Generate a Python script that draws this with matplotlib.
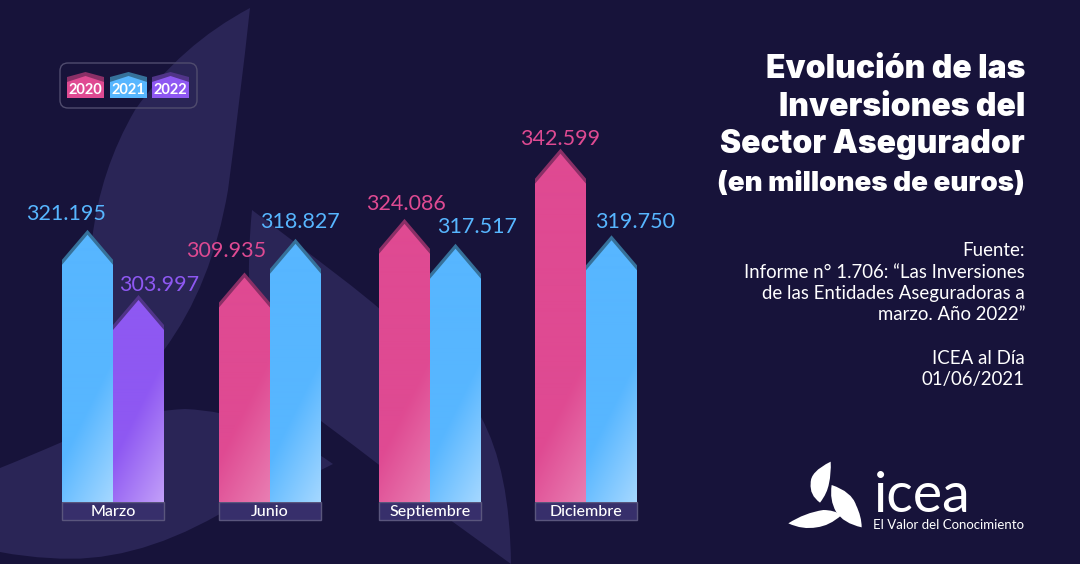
import numpy as np
import matplotlib
matplotlib.use("Agg")
import matplotlib.pyplot as plt
from matplotlib.path import Path
from matplotlib.patches import PathPatch, Polygon, Rectangle, FancyBboxPatch
from matplotlib.colors import to_rgb

plt.rcParams['font.family'] = ['Lato', 'DejaVu Sans']

months = ["Marzo", "Junio", "Septiembre", "Diciembre"]
values_2020 = [None, 309935, 324086, 342599]
values_2021 = [321195, 318827, 317517, 319750]
values_2022 = [303997, None, None, None]
years = ["2020", "2021", "2022"]

title_lines = ["Evolución de las", "Inversiones del", "Sector Asegurador", "(en millones de euros)"]
source_lines = ["Fuente:", "Informe n° 1.706: “Las Inversiones", "de las Entidades Aseguradoras a",
                "marzo. Año 2022”", "", "ICEA al Día", "01/06/2021"]

BG = "#17133a"
LEAF = "#2a2556"
colors = {"2020": ("#df4a92", "#e97fb3", "#8a2f66"),
          "2021": ("#57b6ff", "#a6d8ff", "#36719a"),
          "2022": ("#8e58f2", "#c3a0f9", "#503488")}

group_left = [62, 219, 379, 535]
bar_w = 51
px_per_k = 3.79
drop_px = 30
label_dx = [-21, 21, -18, 4, 1, 22, 0, 24]
label_dy = [21, 15, 26, 22, 20, 22, 15, 18]
VMIN, VMAX = 250699, 356768


def curve(points, color, ax, **kw):
    # closed shape from on-curve / control point pairs
    verts = [points[0]]
    codes = [Path.MOVETO]
    for p in points[1:]:
        verts.append(p)
        codes.append(Path.CURVE3)
    verts.append(points[0])
    codes.append(Path.CLOSEPOLY)
    ax.add_patch(PathPatch(Path(verts, codes), fc=color, ec="none", **kw))


def zl(pts):
    return [(770 + x / 3, 450 + y / 3) for x, y in pts]


fig = plt.figure(figsize=(10.8, 5.64), dpi=100, facecolor=BG)
bg = fig.add_axes([0, 0, 1, 1])
bg.set_xlim(0, 1080)
bg.set_ylim(564, 0)
bg.axis("off")

# background leaves
curve([(250, 8), (180, 45), (135, 110), (100, 170), (92, 240), (82, 320), (92, 405),
      (140, 380), (164, 350), (212, 285), (228, 190), (240, 100), (250, 8), (250, 8), (250, 8)], LEAF, bg)
curve([(252, 210), (296, 243), (340, 277), (430, 345), (481, 417), (510, 470), (511, 564),
      (482, 543), (453, 522), (387, 470), (321, 421), (265, 375), (250, 300), (247, 260), (252, 210)], LEAF, bg)
curve([(0, 468), (30, 456), (62, 442), (120, 412), (185, 409), (260, 412), (333, 464),
      (327, 467), (321, 470), (270, 492), (218, 515), (130, 565), (50, 558), (25, 557), (0, 552)], LEAF, bg)

ax = fig.add_axes([0, 62 / 564, 1, 402 / 564], facecolor="none")
ax.axis("off")

k = 1000 / px_per_k  # value units per pixel
i = 0
for g, month in enumerate(months):
    series = [(y, v[g]) for y, v in zip(years, [values_2020, values_2021, values_2022]) if v[g] is not None]
    for s, (year, val) in enumerate(series):
        main, light, dark = colors[year]
        x0 = group_left[g] + s * bar_w
        x1 = x0 + bar_w
        xc = (x0 + x1) / 2

        cap = Polygon([(x0, VMIN), (x0, val - (drop_px - 5) * k), (xc, val + 5 * k),
                       (x1, val - (drop_px - 5) * k), (x1, VMIN)], fc=dark, ec="none", zorder=2 + s)
        ax.add_patch(cap)

        shape = Polygon([(x0, VMIN), (x0, val - drop_px * k), (xc, val),
                         (x1, val - drop_px * k), (x1, VMIN)], fc="none", ec="none", zorder=2 + s)
        ax.add_patch(shape)

        h = int((val - VMIN) / k)
        xx, dd = np.meshgrid(np.arange(bar_w), np.arange(h))
        t = np.clip((42 - (dd - 2 * xx)) / 144, 0, 1)[..., None]
        img = np.array(to_rgb(main)) * (1 - t) + np.array(to_rgb(light)) * t
        im = ax.imshow(img, extent=[x0, x1, VMIN, val], origin="lower", aspect="auto",
                       interpolation="bilinear", zorder=2.5 + s)
        im.set_clip_path(shape)

        ax.annotate(f"{val:,}".replace(",", "."), (xc, val), xytext=(label_dx[i], label_dy[i]),
                    textcoords="offset pixels", ha="center", va="center", fontsize=15.5,
                    color=main, zorder=6)
        i += 1

ax.set_xlim(0, 1080)
ax.set_ylim(VMIN, VMAX)

# month boxes under each group
for g, month in enumerate(months):
    bg.add_patch(Rectangle((group_left[g], 502), 2 * bar_w, 17.5, fc="#372f6b", ec="#5a567d", lw=1, zorder=3))
    bg.text(group_left[g] + bar_w, 512, month, ha="center", va="center", color="white",
            fontsize=11.5, fontweight="medium", zorder=4)

# legend
bg.add_patch(FancyBboxPatch((60, 63), 137, 45, boxstyle="round,pad=0,rounding_size=8",
                            fc="none", ec="#504c6e", lw=1))
for x, year in zip([67, 110, 152], years):
    main, light, dark = colors[year]
    bg.add_patch(Polygon([(x, 98), (x, 77), (x + 18.5, 72), (x + 37, 77), (x + 37, 98)], fc=dark, ec="none"))
    bg.add_patch(Polygon([(x, 98), (x, 82), (x + 18.5, 76), (x + 37, 82), (x + 37, 98)], fc=main, ec="none"))
    bg.text(x + 18.5, 90, year, ha="center", va="center", color="white", fontsize=10.5, fontweight="bold")

# title and source on the right
for line, y, size in zip(title_lines, [70, 108, 144, 184], [22.9, 22.9, 22.9, 20]):
    bg.text(1025, y, line, ha="right", va="center", color="white", fontsize=size,
            family=["Inter", "DejaVu Sans"], fontweight="black")
for line, y in zip(source_lines, [251, 273, 294, 315, 336, 358, 380]):
    bg.text(1025, y, line, ha="right", va="center", color="white", fontsize=13.4)

# logo
curve(zl([(182, 35), (120, 65), (122, 100), (118, 135), (150, 158), (172, 130), (177, 100), (184, 70), (182, 35)]), "white", bg)
curve(zl([(185, 105), (245, 125), (258, 165), (275, 200), (275, 232), (220, 220), (198, 185), (178, 150), (185, 105)]), "white", bg)
curve(zl([(55, 220), (105, 188), (160, 180), (192, 180), (215, 195), (178, 228), (140, 232), (98, 240), (55, 220)]), "white", bg)
bg.text(874, 497, "icea", ha="left", va="center", color="white", fontsize=40)
bg.text(1024, 525, "El Valor del Conocimiento", ha="right", va="center", color="white", fontsize=9.5)

fig.savefig("out.png", dpi=100, facecolor=BG)
